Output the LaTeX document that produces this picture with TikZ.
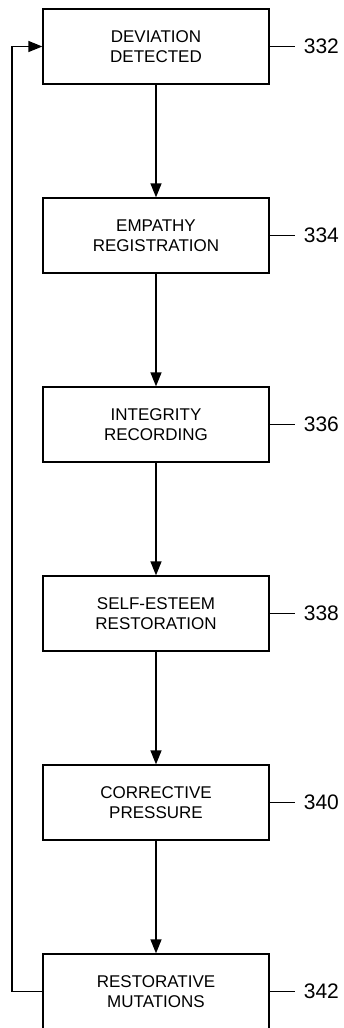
\documentclass[tikz,border=0pt]{standalone}
\usepackage{fontspec}
\setmainfont{Liberation Sans}
\usetikzlibrary{arrows.meta}
\begin{document}
\begin{tikzpicture}[x=1pt,y=-1pt,
  stepbox/.style={draw, line width=1.3pt, minimum width=226pt, minimum height=75pt, inner sep=0pt, align=center, font=\fontsize{17}{20.5}\selectfont},
  flow/.style={line width=1.3pt, -{Triangle[width=11pt,length=14pt]}},
  lead/.style={line width=1.3pt},
  reflabel/.style={anchor=west, inner sep=0pt, font=\fontsize{21}{24}\selectfont}]
\useasboundingbox (0,0) rectangle (343,1028);
\fill[white] (0,0) rectangle (343,1028);
\node[stepbox] (b1) at (156,46.5) {DEVIATION\\DETECTED};
\node[stepbox] (b2) at (156,235.5) {EMPATHY\\REGISTRATION};
\node[stepbox] (b3) at (156,424.5) {INTEGRITY\\RECORDING};
\node[stepbox] (b4) at (156,613.5) {SELF-ESTEEM\\RESTORATION};
\node[stepbox] (b5) at (156,802.5) {CORRECTIVE\\PRESSURE};
\node[stepbox] (b6) at (156,991.5) {RESTORATIVE\\MUTATIONS};
\foreach \i/\n in {1/332,2/334,3/336,4/338,5/340,6/342}{
  \coordinate (e\i) at ([xshift=25pt]b\i.east);
  \draw[lead] (b\i.east) -- (e\i);
  \node[reflabel] (l\i) at ([xshift=9pt]e\i) {\n};
}
\draw[flow] (b1) -- (b2);
\draw[flow] (b2) -- (b3);
\draw[flow] (b3) -- (b4);
\draw[flow] (b4) -- (b5);
\draw[flow] (b5) -- (b6);
\coordinate (c1) at (12,991.5);
\coordinate (c2) at (12,46.5);
\draw[flow] (b6.west) -- (c1) -- (c2) -- (b1.west);
\end{tikzpicture}
\end{document}
